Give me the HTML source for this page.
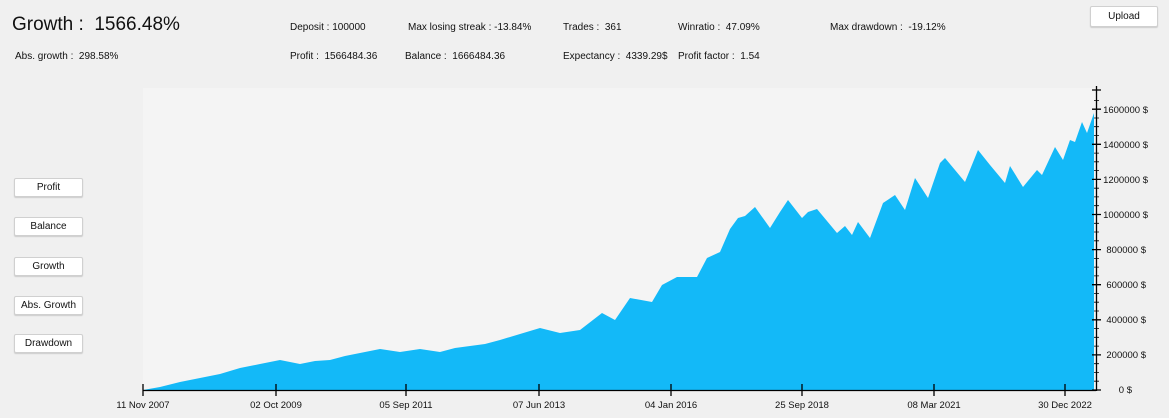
<!DOCTYPE html>
<html><head><meta charset="utf-8"><style>
body{margin:0;width:1169px;height:418px;background:#f0f0f0;font-family:"Liberation Sans",sans-serif;overflow:hidden;position:relative}
.t{position:absolute;font-size:10px;color:#111;white-space:nowrap}
.btn{position:absolute;left:14px;width:67px;height:17px;background:#fff;border:1px solid #d0d0d0;border-radius:2px;box-shadow:0 1px 1px #ccc;font-size:10px;text-align:center;line-height:17px;color:#111}
</style></head><body>
<div class="t" style="left:12px;top:14px;font-size:19px">Growth :&nbsp; 1566.48%</div>
<div class="t" style="left:15px;top:51px">Abs. growth :&nbsp; 298.58%</div>
<div class="t" style="left:290px;top:22px">Deposit : 100000</div>
<div class="t" style="left:290px;top:51px">Profit :&nbsp; 1566484.36</div>
<div class="t" style="left:408px;top:22px">Max losing streak : -13.84%</div>
<div class="t" style="left:405px;top:51px">Balance :&nbsp; 1666484.36</div>
<div class="t" style="left:563px;top:22px">Trades :&nbsp; 361</div>
<div class="t" style="left:563px;top:51px">Expectancy :&nbsp; 4339.29$</div>
<div class="t" style="left:678px;top:22px">Winratio :&nbsp; 47.09%</div>
<div class="t" style="left:678px;top:51px">Profit factor :&nbsp; 1.54</div>
<div class="t" style="left:830px;top:22px">Max drawdown :&nbsp; -19.12%</div>
<div class="btn" style="left:1090px;top:6px;width:66px;height:19px;line-height:19px">Upload</div>
<div class="btn" style="top:178px">Profit</div>
<div class="btn" style="top:217px">Balance</div>
<div class="btn" style="top:257px">Growth</div>
<div class="btn" style="top:296px">Abs. Growth</div>
<div class="btn" style="top:334px">Drawdown</div>
<svg width="1169" height="418" style="position:absolute;left:0;top:0">
<rect x="143" y="88" width="953" height="302" fill="#f4f4f4"/>
<polygon fill="#13b9f8" points="143,390 160,387 180,382 200,378 220,374 240,368 260,364 280,360 300,364 315,361 330,360 345,356 360,353 380,349 400,352 420,349 440,352 455,348 470,346 485,344 500,340 520,334 540,328 560,333 580,330 602,313 615,320 630,298 652,302 662,285 677,277 697,277 707,258 720,252 730,229 738,218 745,216 755,207 770,228 780,212 788,200 802,218 808,212 817,209 837,233 845,226 852,235 858,222 870,238 883,203 895,195 905,210 915,178 928,198 940,163 945,158 955,170 965,182 978,150 990,165 1005,183 1010,166 1023,187 1037,170 1042,175 1055,147 1063,160 1070,140 1075,142 1082,122 1087,133 1094,113 1094,390"/>
<g stroke="#000" stroke-width="1.3" fill="none">
<line x1="143" y1="390.5" x2="1096" y2="390.5"/>
<line x1="1096.5" y1="86" x2="1096.5" y2="391"/>
<path d="M143,384V396M276,384V396M406,384V396M539,384V396M671,384V396M802,384V396M934,384V396M1065,384V396"/>
<path d="M1092,390H1101M1092,354.9H1101M1092,319.8H1101M1092,284.7H1101M1092,249.6H1101M1092,214.5H1101M1092,179.4H1101M1092,144.3H1101M1092,109.2H1101M1092,90H1101" />
</g>
<g stroke="#000" stroke-width="0.8">
<path d="M1094,381.2H1099M1094,372.4H1099M1094,363.7H1099M1094,346.1H1099M1094,337.3H1099M1094,328.6H1099M1094,311H1099M1094,302.2H1099M1094,293.5H1099M1094,275.9H1099M1094,267.1H1099M1094,258.4H1099M1094,240.8H1099M1094,232H1099M1094,223.3H1099M1094,205.7H1099M1094,196.9H1099M1094,188.2H1099M1094,170.6H1099M1094,161.8H1099M1094,153.1H1099M1094,135.5H1099M1094,126.7H1099M1094,118H1099M1094,100.4H1099"/>
</g>
<g font-size="9.5" fill="#111" font-family="Liberation Sans,sans-serif" text-anchor="middle">
<text x="143" y="408">11 Nov 2007</text><text x="276" y="408">02 Oct 2009</text><text x="406" y="408">05 Sep 2011</text><text x="539" y="408">07 Jun 2013</text><text x="671" y="408">04 Jan 2016</text><text x="802" y="408">25 Sep 2018</text><text x="934" y="408">08 Mar 2021</text><text x="1065" y="408">30 Dec 2022</text>
</g>
<g font-size="9.5" fill="#111" font-family="Liberation Sans,sans-serif" text-anchor="end">
<text x="1132" y="393">0 $</text><text x="1146" y="358">200000 $</text><text x="1146" y="323">400000 $</text><text x="1146" y="288">600000 $</text><text x="1146" y="253">800000 $</text><text x="1148" y="218">1000000 $</text><text x="1148" y="183">1200000 $</text><text x="1148" y="148">1400000 $</text><text x="1148" y="113">1600000 $</text>
</g>
</svg>
</body></html>
